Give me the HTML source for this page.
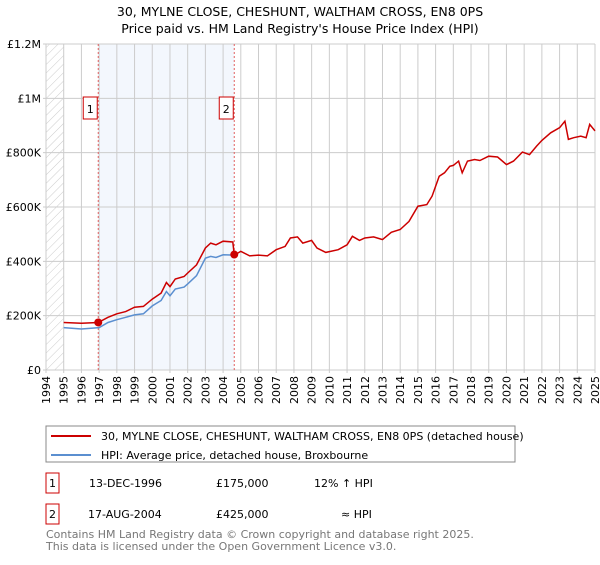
<!DOCTYPE html>
<html><head><meta charset="utf-8"><style>
body{margin:0;background:#fff;font-family:"Liberation Sans","DejaVu Sans",sans-serif;}
svg text{font-family:"DejaVu Sans","Liberation Sans",sans-serif;}
</style></head><body>
<svg width="600" height="560" viewBox="0 0 600 560" xmlns="http://www.w3.org/2000/svg">
<defs><pattern id="hatch" width="6" height="6" patternUnits="userSpaceOnUse" patternTransform="rotate(45)"><line x1="0" y1="0" x2="0" y2="6" stroke="#ccc" stroke-width="1"/></pattern></defs>
<text x="300" y="16" text-anchor="middle" font-size="12.5" fill="#000">30, MYLNE CLOSE, CHESHUNT, WALTHAM CROSS, EN8 0PS</text>
<text x="300" y="33" text-anchor="middle" font-size="12.5" fill="#000">Price paid vs. HM Land Registry's House Price Index (HPI)</text>
<g id="plot"></g>
<g>
<rect x="46" y="426" width="469" height="36" fill="#fff" stroke="#888"/>
<line x1="51" y1="436" x2="91" y2="436" stroke="#cc0000" stroke-width="2"/>
<text x="101" y="440" font-size="11">30, MYLNE CLOSE, CHESHUNT, WALTHAM CROSS, EN8 0PS (detached house)</text>
<line x1="51" y1="455" x2="91" y2="455" stroke="#5b8fd0" stroke-width="2"/>
<text x="101" y="459" font-size="11">HPI: Average price, detached house, Broxbourne</text>
</g>
<g font-size="11">
<rect x="46" y="473" width="13" height="20" fill="#fff" stroke="#cc0000"/><text x="52.5" y="487" text-anchor="middle">1</text>
<text x="89" y="487">13-DEC-1996</text><text x="216" y="487">£175,000</text><text x="314" y="487">12% ↑ HPI</text>
<rect x="46" y="504" width="13" height="20" fill="#fff" stroke="#cc0000"/><text x="52.5" y="518" text-anchor="middle">2</text>
<text x="88" y="518">17-AUG-2004</text><text x="216" y="518">£425,000</text><text x="341" y="518">≈ HPI</text>
</g>
<text x="46" y="538" font-size="11" fill="#777">Contains HM Land Registry data © Crown copyright and database right 2025.</text>
<text x="46" y="550" font-size="11" fill="#777">This data is licensed under the Open Government Licence v3.0.</text>
</svg>
<script>
const yearTicks=[1994,1995,1996,1997,1998,1999,2000,2001,2002,2003,2004,2005,2006,2007,2008,2009,2010,2011,2012,2013,2014,2015,2016,2017,2018,2019,2020,2021,2022,2023,2024,2025];
const valueTicks=[0,200000,400000,600000,800000,1000000,1200000];
const valueLabels=["£0","£200K","£400K","£600K","£800K","£1M","£1.2M"];
const propDates=[1995,1996,1996.95,1997.5,1998,1998.5,1999,1999.5,2000,2000.5,2000.8,2001,2001.3,2001.8,2002,2002.5,2003,2003.3,2003.6,2004,2004.55,2004.63,2005,2005.5,2006,2006.5,2007,2007.5,2007.8,2008.2,2008.5,2009,2009.3,2009.8,2010.5,2011,2011.3,2011.7,2012,2012.5,2013,2013.5,2014,2014.5,2015,2015.5,2015.8,2016.2,2016.5,2016.8,2017,2017.3,2017.5,2017.8,2018.2,2018.5,2019,2019.5,2020,2020.4,2020.9,2021.3,2021.7,2022,2022.5,2023,2023.3,2023.5,2023.8,2024.2,2024.5,2024.7,2025];
const propValues=[175,172,175,194,207,215,231,234,261,283,322,307,335,344,357,387,449,467,461,474,471,423,437,420,423,420,443,455,486,490,467,477,449,433,443,461,492,477,486,490,480,507,517,547,603,609,640,713,726,750,753,769,726,769,775,771,787,784,756,769,802,793,824,845,873,892,916,849,855,861,855,904,880];
const hpiDates=[1995,1996,1997,1997.5,1998,1998.5,1999,1999.5,2000,2000.5,2000.8,2001,2001.3,2001.8,2002,2002.5,2003,2003.3,2003.6,2004,2004.63];
const hpiValues=[156,151,156,175,185,194,203,207,236,256,289,273,298,305,317,347,412,418,414,424,423];
const saleDates=[1996.95,2004.63];
const saleValues=[175,425];
const saleLabels=["1","2"];

const X0=46,X1=595,Y0=370,Y1=44;
const xs=y=>X0+(y-1994)/(2025-1994)*(X1-X0);
const ys=v=>Y0-v/1200000*(Y0-Y1);
const NS="http://www.w3.org/2000/svg";
const g=document.getElementById('plot');
function mk(t,a){const e=document.createElementNS(NS,t);for(const k in a)e.setAttribute(k,a[k]);g.appendChild(e);return e;}
let e;
e=mk('rect',{x:xs(saleDates[0]),y:Y1,width:xs(saleDates[1])-xs(saleDates[0]),height:Y0-Y1,fill:'#eef3fc',opacity:0.7});


e=mk('rect',{x:X0,y:Y1,width:xs(1995)-X0,height:Y0-Y1,fill:'url(#hatch)'});


yearTicks.forEach(y=>{
 e=mk('line',{x1:xs(y),x2:xs(y),y1:Y1,y2:Y0+3,stroke:'#ccc','stroke-width':1});
 
 
 e=mk('text',{x:0,y:0,'font-size':11,'text-anchor':'end',transform:`translate(${xs(y)+4},${Y0+6}) rotate(-90)`});
 e.textContent=y;
 
 
});
valueTicks.forEach((v,i)=>{
 e=mk('line',{x1:X0-3,x2:X1,y1:ys(v),y2:ys(v),stroke:'#ccc','stroke-width':1});
 
 
 e=mk('text',{x:X0-5,y:ys(v)+4,'font-size':11,'text-anchor':'end'});
 e.textContent=valueLabels[i];
 
 
});
saleDates.forEach((d,i)=>{
 e=mk('line',{x1:xs(d),x2:xs(d),y1:Y1,y2:Y0,stroke:'#e06060','stroke-width':1,'stroke-dasharray':'2,2'});
 
 
 e=mk('rect',{x:xs(d)-15,y:97,width:14,height:22,fill:'#fff',stroke:'#cc0000'});
 
 
 e=mk('text',{x:xs(d)-8,y:113,'font-size':11,'text-anchor':'middle'});
 e.textContent=saleLabels[i];
 
 
});
const path=(ds,vs)=>ds.map((d,i)=>(i?'L':'M')+xs(d).toFixed(1)+','+ys(vs[i]*1000).toFixed(1)).join('');
e=mk('path',{d:path(hpiDates,hpiValues),fill:'none',stroke:'#5b8fd0','stroke-width':1.5});


e=mk('path',{d:path(propDates,propValues),fill:'none',stroke:'#cc0000','stroke-width':1.5});


saleDates.forEach((d,i)=>{
 e=mk('circle',{cx:xs(d),cy:ys(saleValues[i]*1000),r:4,fill:'#cc0000'});
 
 
});
</script>
</body></html>
